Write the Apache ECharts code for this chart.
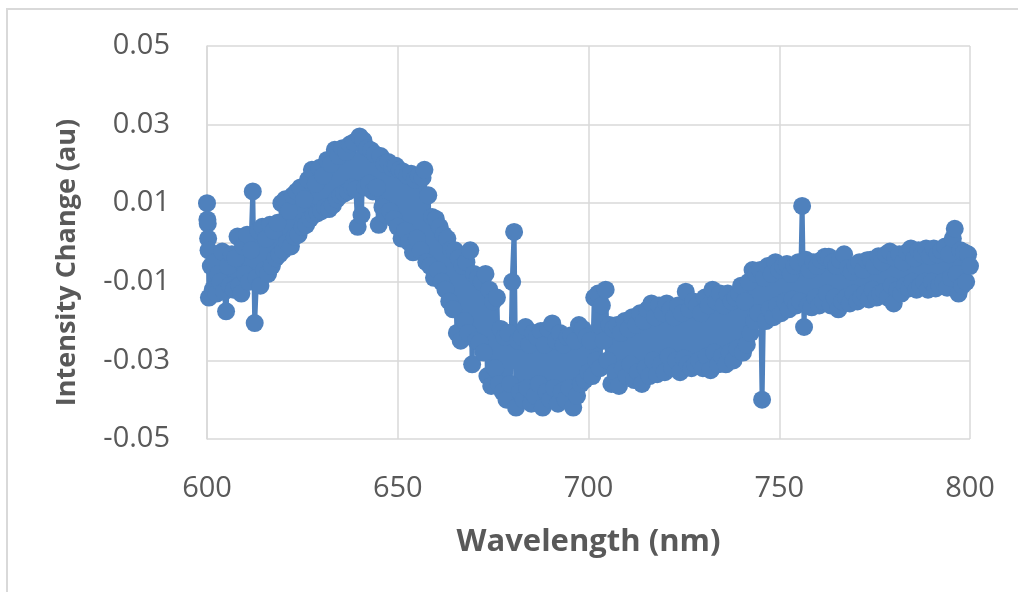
<!DOCTYPE html>
<html>
<head>
<meta charset="utf-8">
<script src="https://cdn.jsdelivr.net/npm/echarts@6/dist/echarts.min.js"></script>
<style>
html,body{margin:0;padding:0;background:#fff;}
#chart{width:1018px;height:592px;}
</style>
</head>
<body>
<div id="chart"></div>
<script>
const xTitle = 'Wavelength (nm)';
const yTitle = 'Intensity Change (au)';
const xTicks = [600, 650, 700, 750, 800];
const yTicks = [-0.05, -0.03, -0.01, 0.01, 0.03, 0.05];

const wavelength = [
600, 600.1, 600.2, 600.3, 600.4,
600.5, 601, 601.5, 602, 602.5, 603, 603.5, 604, 604.5, 605,
605.5, 606, 606.5, 607, 607.5, 608, 608.5, 609, 609.5, 610,
610.5, 611, 611.5, 612, 612.5, 613, 613.5, 614, 614.5, 615,
615.5, 616, 616.5, 617, 617.5, 618, 618.5, 619, 619.5, 620,
620.5, 621, 621.5, 622, 622.5, 623, 623.5, 624, 624.5, 625,
625.5, 626, 626.5, 627, 627.5, 628, 628.5, 629, 629.5, 630,
630.5, 631, 631.5, 632, 632.5, 633, 633.5, 634, 634.5, 635,
635.5, 636, 636.5, 637, 637.5, 638, 638.5, 639, 639.5, 640,
640.5, 641, 641.5, 642, 642.5, 643, 643.5, 644, 644.5, 645,
645.5, 646, 646.5, 647, 647.5, 648, 648.5, 649, 649.5, 650,
650.5, 651, 651.5, 652, 652.5, 653, 653.5, 654, 654.5, 655,
655.5, 656, 656.5, 657, 657.5, 658, 658.5, 659, 659.5, 660,
660.5, 661, 661.5, 662, 662.5, 663, 663.5, 664, 664.5, 665,
665.5, 666, 666.5, 667, 667.5, 668, 668.5, 669, 669.5, 670,
670.5, 671, 671.5, 672, 672.5, 673, 673.5, 674, 674.5, 675,
675.5, 676, 676.5, 677, 677.5, 678, 678.5, 679, 679.5, 680,
680.5, 681, 681.5, 682, 682.5, 683, 683.5, 684, 684.5, 685,
685.5, 686, 686.5, 687, 687.5, 688, 688.5, 689, 689.5, 690,
690.5, 691, 691.5, 692, 692.5, 693, 693.5, 694, 694.5, 695,
695.5, 696, 696.5, 697, 697.5, 698, 698.5, 699, 699.5, 700,
700.5, 701, 701.5, 702, 702.5, 703, 703.5, 704, 704.5, 705,
705.5, 706, 706.5, 707, 707.5, 708, 708.5, 709, 709.5, 710,
710.5, 711, 711.5, 712, 712.5, 713, 713.5, 714, 714.5, 715,
715.5, 716, 716.5, 717, 717.5, 718, 718.5, 719, 719.5, 720,
720.5, 721, 721.5, 722, 722.5, 723, 723.5, 724, 724.5, 725,
725.5, 726, 726.5, 727, 727.5, 728, 728.5, 729, 729.5, 730,
730.5, 731, 731.5, 732, 732.5, 733, 733.5, 734, 734.5, 735,
735.5, 736, 736.5, 737, 737.5, 738, 738.5, 739, 739.5, 740,
740.5, 741, 741.5, 742, 742.5, 743, 743.5, 744, 744.5, 745,
745.5, 746, 746.5, 747, 747.5, 748, 748.5, 749, 749.5, 750,
750.5, 751, 751.5, 752, 752.5, 753, 753.5, 754, 754.5, 755,
755.5, 756, 756.5, 757, 757.5, 758, 758.5, 759, 759.5, 760,
760.5, 761, 761.5, 762, 762.5, 763, 763.5, 764, 764.5, 765,
765.5, 766, 766.5, 767, 767.5, 768, 768.5, 769, 769.5, 770,
770.5, 771, 771.5, 772, 772.5, 773, 773.5, 774, 774.5, 775,
775.5, 776, 776.5, 777, 777.5, 778, 778.5, 779, 779.5, 780,
780.5, 781, 781.5, 782, 782.5, 783, 783.5, 784, 784.5, 785,
785.5, 786, 786.5, 787, 787.5, 788, 788.5, 789, 789.5, 790,
790.5, 791, 791.5, 792, 792.5, 793, 793.5, 794, 794.5, 795,
795.5, 796, 796.5, 797, 797.5, 798, 798.5, 799, 799.5, 800
];

const intensity = [
0.0100, 0.0058, 0.0048, 0.0010, -0.0020,
-0.0140, -0.0060, -0.0120, -0.0050, -0.0130, -0.0080, -0.0100, -0.0023, -0.0125, -0.0175,
-0.0060, -0.0110, -0.0030, -0.0120, -0.0040, 0.0015, -0.0110, -0.0130, -0.0010, -0.0080,
0.0020, -0.0100, -0.0020, 0.0130, -0.0205, -0.0090, 0.0030, -0.0110, 0.0040, -0.0070,
0.0010, -0.0080, 0.0045, -0.0060, 0.0030, -0.0040, 0.0050, -0.0030, 0.0100, -0.0020,
0.0110, 0.0000, 0.0080, -0.0010, 0.0120, 0.0015, 0.0130, 0.0020, 0.0140, 0.0040,
0.0110, 0.0045, 0.0160, 0.0060, 0.0185, 0.0070, 0.0150, 0.0075, 0.0190, 0.0080,
0.0170, 0.0090, 0.0210, 0.0085, 0.0200, 0.0095, 0.0236, 0.0110, 0.0220, 0.0120,
0.0240, 0.0125, 0.0230, 0.0130, 0.0250, 0.0140, 0.0255, 0.0135, 0.0040, 0.0270,
0.0070, 0.0260, 0.0140, 0.0240, 0.0150, 0.0235, 0.0130, 0.0225, 0.0140, 0.0045,
0.0220, 0.0090, 0.0200, 0.0070, 0.0205, 0.0080, 0.0190, 0.0060, 0.0195, 0.0040,
0.0185, 0.0010, 0.0180, 0.0030, 0.0170, 0.0000, 0.0175, -0.0025, 0.0160, 0.0010,
0.0170, -0.0020, 0.0165, 0.0185, -0.0050, 0.0120, -0.0060, 0.0065, -0.0090, 0.0060,
-0.0070, 0.0040, -0.0100, 0.0020, -0.0120, 0.0010, -0.0150, -0.0018, -0.0170, -0.0020,
-0.0230, -0.0040, -0.0250, -0.0060, -0.0200, -0.0050, -0.0230, -0.0020, -0.0310, -0.0080,
-0.0250, -0.0090, -0.0255, -0.0100, -0.0280, -0.0080, -0.0340, -0.0120, -0.0365, -0.0150,
-0.0320, -0.0140, -0.0360, -0.0220, -0.0380, -0.0240, -0.0400, -0.0230, -0.0360, -0.0100,
0.0027, -0.0420, -0.0250, -0.0380, -0.0240, -0.0400, -0.0215, -0.0370, -0.0260, -0.0410,
-0.0230, -0.0390, -0.0240, -0.0360, -0.0225, -0.0420, -0.0260, -0.0380, -0.0220, -0.0400,
-0.0206, -0.0370, -0.0250, -0.0410, -0.0230, -0.0380, -0.0260, -0.0400, -0.0240, -0.0370,
-0.0236, -0.0420, -0.0250, -0.0390, -0.0210, -0.0360, -0.0220, -0.0350, -0.0240, -0.0330,
-0.0250, -0.0340, -0.0140, -0.0300, -0.0130, -0.0320, -0.0160, -0.0250, -0.0120, -0.0300,
-0.0210, -0.0360, -0.0220, -0.0330, -0.0210, -0.0365, -0.0230, -0.0320, -0.0200, -0.0340,
-0.0220, -0.0310, -0.0190, -0.0350, -0.0210, -0.0330, -0.0180, -0.0360, -0.0200, -0.0320,
-0.0170, -0.0340, -0.0155, -0.0300, -0.0190, -0.0335, -0.0160, -0.0310, -0.0180, -0.0330,
-0.0155, -0.0290, -0.0170, -0.0320, -0.0190, -0.0300, -0.0160, -0.0330, -0.0180, -0.0295,
-0.0125, -0.0310, -0.0170, -0.0320, -0.0150, -0.0310, -0.0160, -0.0300, -0.0180, -0.0320,
-0.0140, -0.0290, -0.0160, -0.0325, -0.0120, -0.0280, -0.0150, -0.0310, -0.0130, -0.0290,
-0.0160, -0.0310, -0.0130, -0.0280, -0.0150, -0.0300, -0.0140, -0.0270, -0.0130, -0.0110,
-0.0280, -0.0150, -0.0260, -0.0100, -0.0230, -0.0070, -0.0200, -0.0080, -0.0180, -0.0070,
-0.0400, -0.0090, -0.0200, -0.0060, -0.0170, -0.0080, -0.0190, -0.0050, -0.0160, -0.0070,
-0.0180, -0.0060, -0.0150, -0.0055, -0.0170, -0.0080, -0.0145, -0.0060, -0.0160, -0.0050,
-0.0150, 0.0093, -0.0215, -0.0044, -0.0160, -0.0070, -0.0165, -0.0050, -0.0140, -0.0060,
-0.0160, -0.0045, -0.0150, -0.0036, -0.0130, -0.0036, -0.0160, -0.0050, -0.0140, -0.0060,
-0.0170, -0.0045, -0.0150, -0.0030, -0.0140, -0.0065, -0.0155, -0.0074, -0.0130, -0.0060,
-0.0150, -0.0050, -0.0140, -0.0070, -0.0130, -0.0045, -0.0145, -0.0044, -0.0120, -0.0060,
-0.0140, -0.0035, -0.0130, -0.0050, -0.0125, -0.0030, -0.0140, -0.0023, -0.0110, -0.0155,
-0.0040, -0.0120, -0.0030, -0.0130, -0.0050, -0.0110, -0.0025, -0.0117, -0.0015, -0.0100,
-0.0040, -0.0120, -0.0020, -0.0110, -0.0030, -0.0100, -0.0015, -0.0120, -0.0035, -0.0100,
-0.0015, -0.0117, -0.0030, -0.0110, -0.0020, -0.0100, -0.0010, -0.0115, -0.0030, -0.0090,
0.0010, 0.0035, -0.0080, -0.0130, -0.0020, -0.0110, -0.0025, -0.0100, -0.0030, -0.0060
];

const points = wavelength.map((w, i) => [w, intensity[i]]);

const chart = echarts.init(document.getElementById('chart'), null, {renderer: 'canvas'});
const labelColor = '#595959';
const gridColor = '#d9d9d9';
const font = '"Open Sans", "Noto Sans", sans-serif';

chart.setOption({
  animation: false,
  backgroundColor: '#ffffff',
  graphic: [{
    type: 'rect',
    shape: {x: 7, y: 9, width: 1200, height: 800},
    style: {fill: 'none', stroke: gridColor, lineWidth: 2},
    silent: true
  }],
  grid: {left: 207, right: 48, top: 46, bottom: 153, containLabel: false},
  xAxis: {
    type: 'value',
    min: xTicks[0],
    max: xTicks[xTicks.length - 1],
    interval: xTicks[1] - xTicks[0],
    name: xTitle,
    nameLocation: 'middle',
    nameGap: 88,
    nameTextStyle: {fontFamily: font, fontSize: 31, fontWeight: 'bold', color: labelColor},
    axisLine: {show: true, lineStyle: {color: gridColor, width: 1.5}},
    axisTick: {show: false},
    axisLabel: {fontFamily: font, fontSize: 29, color: labelColor, margin: 35},
    splitLine: {show: true, lineStyle: {color: gridColor, width: 1.5}}
  },
  yAxis: {
    type: 'value',
    min: yTicks[0],
    max: yTicks[yTicks.length - 1],
    interval: yTicks[1] - yTicks[0],
    name: yTitle,
    nameLocation: 'middle',
    nameGap: 126,
    nameRotate: 90,
    nameTextStyle: {fontFamily: font, fontSize: 27, fontWeight: 'bold', color: labelColor, padding: [0, 40, 0, 0]},
    axisLine: {show: true, lineStyle: {color: gridColor, width: 1.5}},
    axisTick: {show: false},
    axisLabel: {fontFamily: font, fontSize: 29, color: labelColor, margin: 37,
      formatter: v => v.toFixed(2)},
    splitLine: {show: true, lineStyle: {color: gridColor, width: 1.5}}
  },
  series: [{
    type: 'line',
    data: points,
    symbol: 'circle',
    symbolSize: 18,
    showSymbol: true,
    showAllSymbol: true,
    clip: false,
    itemStyle: {color: '#4f81bd'},
    lineStyle: {color: '#4f81bd', width: 5},
    emphasis: {disabled: true}
  }]
});
</script>
</body>
</html>
